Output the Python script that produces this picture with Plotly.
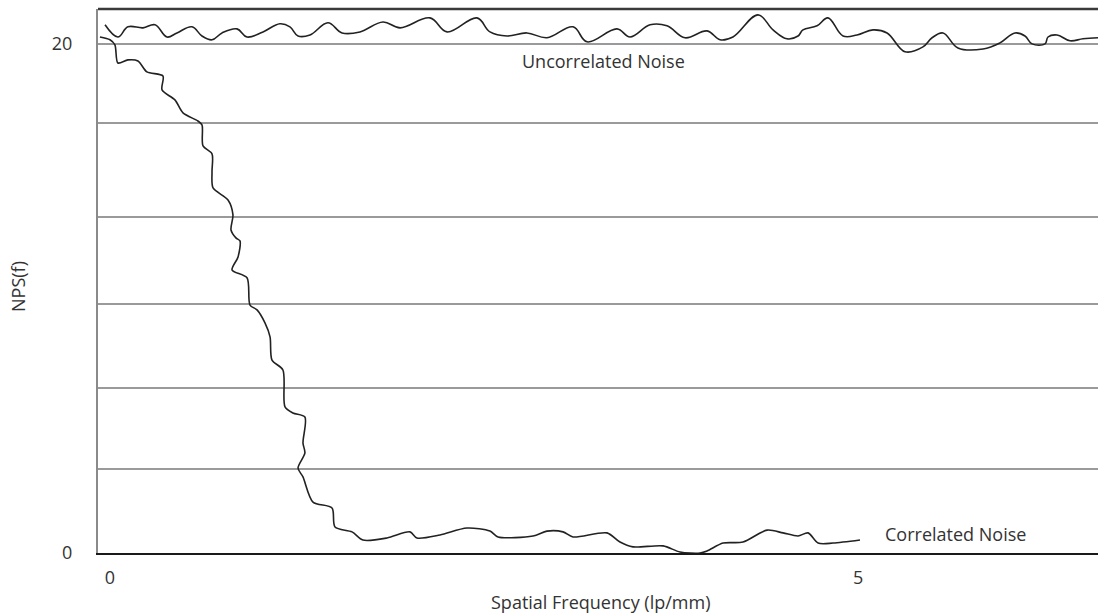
import plotly.graph_objects as go

# Uncorrelated noise: flat NPS hovering just above 20
uncorr_f = [-0.033, 0.053, 0.120, 0.221, 0.301, 0.381, 0.448, 0.548, 0.615, 0.682,
            0.749, 0.849, 0.916, 1.023, 1.136, 1.203, 1.257, 1.337, 1.457, 1.551,
            1.671, 1.825, 1.939, 2.139, 2.253, 2.453, 2.540, 2.654, 2.787, 2.921,
            3.095, 3.189, 3.389, 3.476, 3.610, 3.723, 3.844, 3.991, 4.078, 4.164,
            4.332, 4.432, 4.525, 4.599, 4.632, 4.726, 4.799, 4.900, 4.993, 5.100,
            5.194, 5.314, 5.434, 5.495, 5.568, 5.668, 5.836, 5.949, 6.049, 6.116,
            6.163, 6.250, 6.270, 6.330, 6.417, 6.504, 6.604]
uncorr_nps = [20.75, 20.27, 20.67, 20.63, 20.75, 20.27, 20.43, 20.67, 20.31, 20.16,
              20.43, 20.59, 20.27, 20.47, 20.79, 20.67, 20.31, 20.35, 20.83, 20.43,
              20.47, 20.86, 20.63, 21.02, 20.47, 21.02, 20.47, 20.31, 20.43, 20.24,
              20.67, 20.08, 20.59, 20.27, 20.75, 20.71, 20.24, 20.51, 20.16, 20.27,
              21.14, 20.55, 20.20, 20.31, 20.55, 20.71, 21.02, 20.31, 20.35, 20.55,
              20.43, 19.69, 19.88, 20.24, 20.43, 19.84, 19.80, 20.04, 20.43, 20.31,
              20.00, 20.00, 20.27, 20.35, 20.12, 20.20, 20.24]

# Correlated noise: NPS falling off with spatial frequency
corr_f = [-0.067, 0.000, 0.033, 0.053, 0.120, 0.187, 0.247, 0.354, 0.348, 0.434,
          0.488, 0.588, 0.615, 0.622, 0.682, 0.682, 0.689, 0.789, 0.822, 0.809,
          0.842, 0.869, 0.856, 0.816, 0.916, 0.936, 0.983, 1.036, 1.070, 1.083,
          1.156, 1.170, 1.223, 1.303, 1.290, 1.303, 1.257, 1.290, 1.357, 1.484,
          1.504, 1.618, 1.691, 1.852, 2.005, 2.052, 2.206, 2.386, 2.540, 2.594,
          2.828, 2.921, 3.028, 3.095, 3.322, 3.409, 3.496, 3.697, 3.810, 3.944,
          3.991, 4.098, 4.231, 4.392, 4.499, 4.599, 4.666, 4.733, 4.833, 5.013]
corr_nps = [20.27, 20.16, 19.96, 19.25, 19.37, 19.33, 18.90, 18.74, 18.19, 17.80,
            17.29, 16.97, 16.82, 15.99, 15.68, 14.97, 14.34, 13.87, 13.28, 12.69,
            12.38, 12.26, 11.63, 11.12, 10.81, 9.74, 9.55, 9.04, 8.49, 7.58,
            7.19, 5.74, 5.50, 5.34, 4.32, 3.93, 3.34, 2.99, 2.00, 1.77,
            1.02, 0.83, 0.51, 0.59, 0.83, 0.59, 0.71, 0.98, 0.86, 0.63,
            0.67, 0.86, 0.83, 0.63, 0.79, 0.43, 0.24, 0.28, 0.04, 0.00,
            0.08, 0.39, 0.43, 0.90, 0.79, 0.67, 0.79, 0.39, 0.39, 0.51]

# Axis ticks and horizontal rule levels
x_tick_vals = [0, 5]
x_tick_text = ["0", "5"]
y_grid_vals = [0, 3.30, 6.48, 9.78, 13.20, 16.90, 20]
y_grid_text = ["0", "", "", "", "", "", "20"]

x_range = [-0.080, 6.604]
y_range = [0, 21.37]

FONT = "Open Sans"
TEXT_COLOR = "#333333"
LINE_COLOR = "#222222"

fig = go.Figure()
for fx, fy, smooth in ((uncorr_f, uncorr_nps, 1.1), (corr_f, corr_nps, 0.8)):
    fig.add_trace(go.Scatter(
        x=fx, y=fy, mode="lines",
        line=dict(color=LINE_COLOR, width=1.6, shape="spline", smoothing=smooth),
        showlegend=False, hoverinfo="skip", cliponaxis=False,
    ))

fig.update_layout(
    width=1098, height=613,
    margin=dict(l=98, r=0, t=9, b=60),
    paper_bgcolor="white", plot_bgcolor="white",
    font=dict(family=FONT, size=18, color=TEXT_COLOR),
    xaxis=dict(
        range=x_range, tickvals=x_tick_vals, ticktext=x_tick_text,
        showgrid=False, zeroline=False, ticks="",
        showline=True, linecolor="#1a1a1a", linewidth=2,
        ticklabelstandoff=7,
    ),
    yaxis=dict(
        range=y_range, tickvals=y_grid_vals, ticktext=y_grid_text,
        showgrid=True, gridcolor="#9a9a9a", gridwidth=1.5,
        zeroline=False, ticks="",
        showline=True, linecolor="#8a8a8a", linewidth=2,
        ticklabelstandoff=20,
    ),
    shapes=[
        dict(type="line", xref="paper", yref="paper", x0=0, x1=1, y0=1, y1=1,
             line=dict(color="#3a3a3a", width=2.5)),
    ],
    annotations=[
        dict(text="Uncorrelated Noise", x=3.30, y=19.33, xref="x", yref="y",
             showarrow=False, xanchor="center", yanchor="middle"),
        dict(text="Correlated Noise", x=5.168, y=0.75, xref="x", yref="y",
             showarrow=False, xanchor="left", yanchor="middle"),
        dict(text="Spatial Frequency (lp/mm)", x=0.502, y=0, xref="paper", yref="paper",
             yshift=-49, showarrow=False, xanchor="center", yanchor="middle"),
        dict(text="NPS(f)", x=0, y=0.489, xref="paper", yref="paper",
             xshift=-80, textangle=-90, showarrow=False,
             xanchor="center", yanchor="middle"),
    ],
)

fig.write_html("out.html")
